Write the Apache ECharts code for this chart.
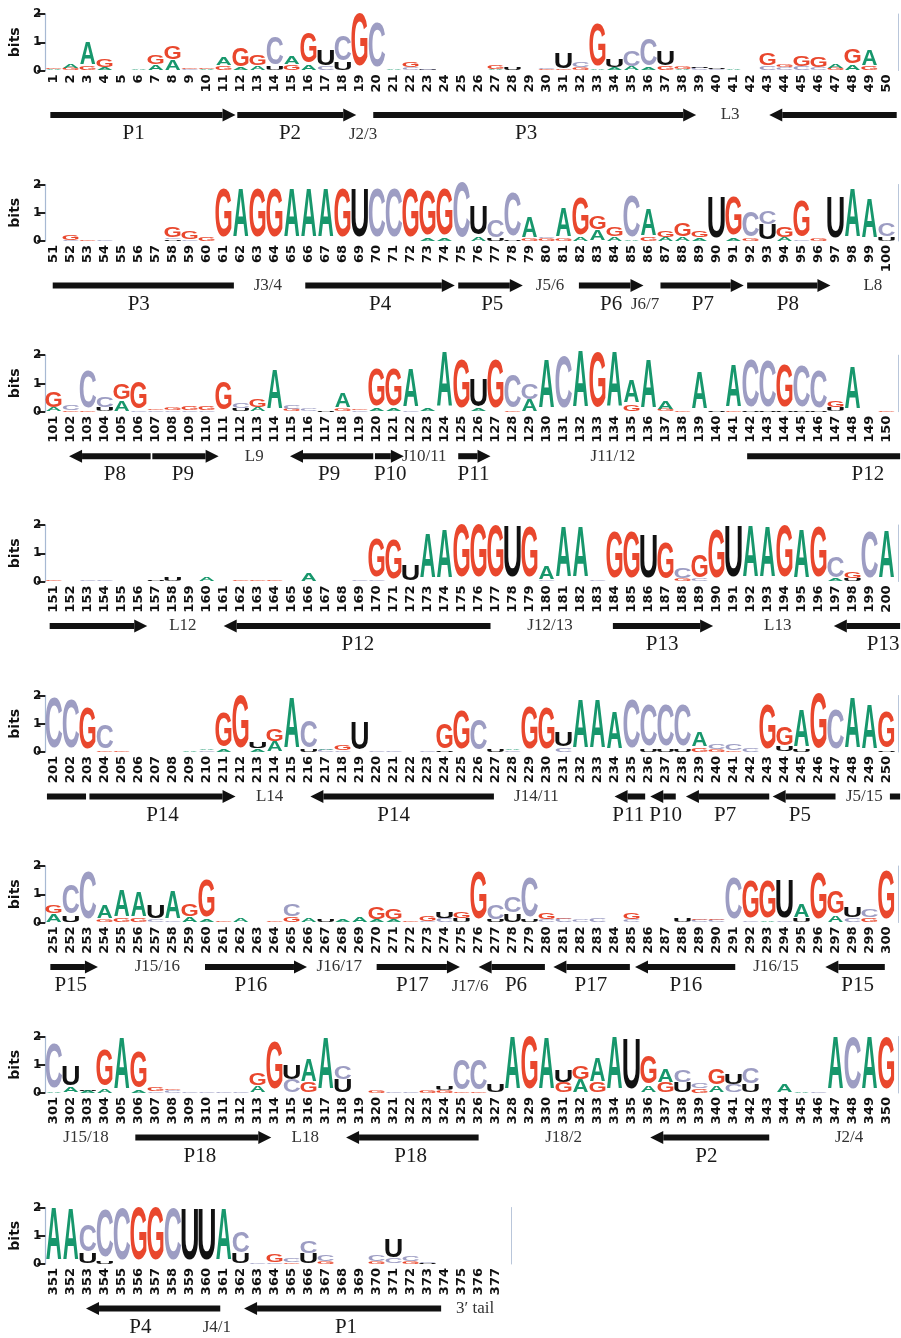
<!DOCTYPE html>
<html><head><meta charset="utf-8">
<script src="https://cdn.jsdelivr.net/npm/echarts@6/dist/echarts.min.js"></script>
<style>html,body{margin:0;padding:0;background:#fff}#c{width:901px;height:1338px}</style>
</head><body><div id="c"></div>
<script>
// ---------- DATA ----------
// Each entry = one alignment position; letters listed bottom -> top with height in bits.
const row1 = ["A.03 G.06","G.08 A.15","G.15 A.8","A.1 G.3","","A.02","A.18 G.33","A.35 G.45","C.05 G.05","A.04 G.04",
"G.15 A.3","A.1 G.65","A.15 G.35","U.12 C1.0","G.2 A.3","A.2 G1.1","C.15 U.55","U.3 C.9","G1.9","C1.6",
"A.02","C.1 G.2","U.03 C.05","","","","A.03 G.12","U.1","","G.04 C.04",
"G.05 U.55","G.1 C.2","A.05 G1.5","A.1 U.3","A.12 C.55","A.1 C.95","G.15 U.5","A.05 G.1","C.08 U.05","C.05 U.05",
"A.03","","C.15 G.4","C.1 G.1","C.12 G.35","C.1 G.35","G.08 A.15","A.2 G.5","G.15 A.55",""];
const row2 = ["","C.03 G.18","G.05","C.04","","","","U.05 C.06 G.38","C.05 G.28","G.12",
"G1.75","A1.75","G1.75","G1.75","A1.75","A1.75","A1.75","G1.75","U1.75","C1.75",
"C1.75","G1.75","A.1 G1.6","A.1 G1.65","C1.95","A.15 U1.05","U.08 C.6","U.06 C1.55","G.08 A.75","G.1 C.06",
"G.08 A1.05","A.12 G1.3","A.38 G.45","A.15 G.32","A.05 C1.45","G.12 A.95","A.12 G.22","A.15 G.45","A.1 G.25","U1.45",
"A.1 G1.35","G.08 C.9","U.55 C.45","A.12 G.35","C.05 G1.25","G.08","U1.45","A1.75","A1.4","U.15 C.45"];
const row3 = ["A.12 G.55","G.04 C.18","G.05 C1.3","U.12 C.35","A.38 G.55","C.05 G.95","C.05 G.05","C.04 G.1","C.04 G.12","C.05 G.15",
"G1.0","U.1 C.18","A.15 G.3","A1.4","G.08 C.15","C.08","U.05","G.1 A.5","C.06 G.06","A.1 G1.33",
"A.1 G1.33","C.05 A1.38","A.08","A1.98","G1.75","A.1 U1.0","G1.75","G.05 C1.15","A.4 C.55","A1.75",
"C1.85","A2.0","G1.95","A1.95","G.25 A.8","A1.75","G.08 A.3","G.05","A1.3","U.05",
"G.05 A1.5","U.05 C1.7","U.05 C1.65","U.05 G1.5","U.05 C1.45","U.05 C1.3","U.15 G.22","A1.5","","G.03"];
const row4 = ["G.03","","C.04","C.02","","","U.05","U.15","","A.15",
"","G.03","G.04","G.05","","A.3","","","C.03","C.05 G1.35",
"G1.4","U.55","A1.6","A1.75","G1.9","G1.9","G1.85","U1.85","G1.8","C.05 A.45",
"A1.8","A1.8","C.03","G1.65","G1.65","U1.55","G1.25","G.1 C.35","C.08 G.8","G1.75",
"U1.85","A1.85","A1.8","G1.85","A1.75","G1.8","A.08 C.75","U.1 G.25","C1.65","A1.7"];
const row5 = ["C1.8","C1.75","G1.45","G.05 C.85","G.05","","","","A.05","C.05 A.05",
"A.1 G1.2","G1.9","A.1 U.25","A.35 G.4","A1.8","U.1 C.95","C.08 A.05","C.05 G.18","U1.0","C.03",
"C.02","","C.03","U.05 G.9","G1.35","C1.1","U.1","C.05 A.05","G1.5","G1.45",
"C.15 U.5","A1.75","A1.75","A1.3","C1.75","U.1 C1.45","U.1 C1.45","U.1 C1.45","G.15 A.5","G.1 C.2",
"G.05 C.25","C.12","G1.6","U.2 G.65","U.1 A1.3","G1.95","C1.4","A1.8","A1.6","U.05 G1.25"];
const row6 = ["A.3 G.3","U.25 C1.05","C1.7","G.1 A.45","G.12 A.95","G.15 A.9","C.1 U.45","C.05 A1.0","A.2 G.4","A.1 G1.3",
"G.06","A.12","","G.04","G.2 C.4","A.12","U.1","A.1","A.2","A.1 G.4",
"A.08 G.38","G.05","C.05 G.2","C.12 U.25","U.12 G.25","G1.7","U.08 C.5","U.3 C.55","U.08 C1.4","C.1 G.25",
"C.12 G.05","C.08","C.12","","C.1 G.25","","","U.12","C.08 G.04","C.1 G.05",
"C1.45","C.05 G1.3","A.05 G1.3","C.05 U1.35","U.15 A.45","G1.65","A.25 G.8","C.15 U.35","G.15 C.3","G1.75"];
const row7 = ["A.05 C1.6","A.2 U.7","A.08 U.05","A.15 G1.25","A1.85","A.1 G1.25","C.05 G.15","C.1 G.05","C.05","C.05",
"C.02","C.05","A.25 G.4","G1.7","C.45 U.5","G.35 A.8","A1.85","U.45 C.45","","G.08",
"C.05","C.03","G.08","G.1 U.15","G.05 C1.1","G.05 C1.1","U.3","A1.9","G1.9","A1.85",
"G.35 U.4","A.45 G.45","G.35 A.85","A1.9","U1.8","A.25 G1.0","G.35 A.45","U.35 C.4","G.15 C.2","A.25 G.55",
"C.3 U.35","U.3 C.55","","A.3","A.05","C.03","A1.9","C1.85","A1.9","G1.85"];
const row8 = ["A1.9","A1.85","U.35 C.95","U.1 C1.7","C1.85","G1.9","G1.9","C1.85","U1.85","U1.85",
"A1.85","U.35 C.75","C.03","C.05 G.28","G.05 C.12","U.35 C.4","G.1 C.22","","","G.08 C.25",
"C.2 U.65","G.1 C.2","U.04 C.06","","","",""];
const logoRows = [row1,row2,row3,row4,row5,row6,row7,row8];
const rowStarts = [1,51,101,151,201,251,301,351];

// Secondary-structure annotation: [from, to, kind] in row-local position units
// kind: r = arrow right, l = arrow left, n = bar without head
const helices = [
  [[0.8,11.7,'r'],[11.8,18.8,'r'],[19.8,38.8,'r'],[43.1,50.6,'l']],
  [[0.94,11.6,'n'],[15.8,24.6,'r'],[24.8,28.6,'r'],[31.9,35.7,'r'],[36.7,41.6,'r'],[41.8,46.7,'r']],
  [[1.9,6.7,'l'],[6.8,10.7,'r'],[14.9,19.8,'l'],[19.9,21.6,'r'],[24.8,26.7,'r'],[41.8,50.8,'n']],
  [[0.76,6.5,'r'],[11,26.7,'l'],[33.9,39.8,'r'],[46.9,50.8,'l']],
  [[0.6,2.9,'n'],[3.1,11.7,'r'],[16.1,26.9,'l'],[34,35.8,'l'],[36.1,37.6,'l'],[38.2,43.1,'l'],[43.3,47,'l'],[50.2,50.8,'n']],
  [[0.8,3.6,'r'],[9.9,15.9,'r'],[20,24.9,'r'],[26,29.9,'l'],[30.4,34.9,'l'],[35.2,41.1,'l'],[46.4,49.9,'l']],
  [[5.8,13.8,'r'],[18.2,26,'l'],[36.1,43.1,'l']],
  [[2.9,10.8,'l'],[12.2,23.8,'l']]
];
// Region labels: [text, position, kind]; P = helix name, ja = junction/loop on arrow line, jb = junction on name line
const regionLabels = [
  [['P1',5.7,'P'],['P2',14.9,'P'],['J2/3',19.2,'jb'],['P3',28.8,'P'],['L3',40.8,'ja']],
  [['P3',6,'P'],['J3/4',13.6,'ja'],['P4',20.2,'P'],['P5',26.8,'P'],['J5/6',30.2,'ja'],['P6',33.8,'P'],['J6/7',35.8,'jb'],['P7',39.2,'P'],['P8',44.2,'P'],['L8',49.2,'ja']],
  [['P8',4.6,'P'],['P9',8.6,'P'],['L9',12.8,'ja'],['P9',17.2,'P'],['P10',20.8,'P'],['J10/11',22.8,'ja'],['P11',25.7,'P'],['J11/12',33.9,'ja'],['P12',48.9,'P']],
  [['L12',8.6,'ja'],['P12',18.9,'P'],['J12/13',30.2,'ja'],['P13',36.8,'P'],['L13',43.6,'ja'],['P13',49.8,'P']],
  [['P14',7.4,'P'],['L14',13.7,'ja'],['P14',21,'P'],['J14/11',29.4,'ja'],['P11',34.8,'P'],['P10',37,'P'],['P7',40.5,'P'],['P5',44.9,'P'],['J5/15',48.7,'ja']],
  [['P15',2,'P'],['J15/16',7.1,'ja'],['P16',12.6,'P'],['J16/17',17.8,'ja'],['P17',22.1,'P'],['J17/6',25.5,'jb'],['P6',28.2,'P'],['P17',32.6,'P'],['P16',38.2,'P'],['J16/15',43.5,'ja'],['P15',48.3,'P']],
  [['J15/18',2.9,'ja'],['P18',9.6,'P'],['L18',15.8,'ja'],['P18',22,'P'],['J18/2',31,'ja'],['P2',39.4,'P'],['J2/4',47.8,'ja']],
  [['P4',6.1,'P'],['J4/1',10.6,'jb'],['P1',18.2,'P'],['3\u2032 tail',25.8,'ja']]
];

// ---------- STYLE / LAYOUT ----------
const COLORS = {A:'#17976c', C:'#9d9dc3', G:'#e9472d', U:'#111111'};
const INK = {A:0.72, C:0.64, G:0.68, U:0.59};
const ZERO_Y = [70.5,241,411.7,581.5,752,922.5,1093,1264];
const PLOT_H = 56.5, LEFT = 45, COL_W = 17;
const LETTER_FONT = '"Liberation Sans", Arial, sans-serif';

function parseStack(s){
  if(!s) return [];
  return s.trim().split(/\s+/).map(t => ({L:t[0], h:parseFloat(t.slice(1))}));
}

const chart = echarts.init(document.getElementById('c'), null, {renderer:'canvas'});
const grid = [], xAxis = [], yAxis = [], series = [];

logoRows.forEach((row, r) => {
  const n = row.length;
  grid.push({left: LEFT, top: ZERO_Y[r]-PLOT_H, width: n*COL_W, height: PLOT_H, containLabel:false});
  const cats = row.map((_, i) => String(rowStarts[r]+i));
  xAxis.push({type:'category', gridIndex:r, data:cats, boundaryGap:true,
    axisLine:{show:false}, axisTick:{show:false}, splitLine:{show:false},
    axisLabel:{interval:0, rotate:90, margin:4, fontSize:13, fontWeight:'bold',
      fontFamily:'"DejaVu Sans", sans-serif', color:'#111'}});
  xAxis.push({type:'value', gridIndex:r, min:0.5, max:n+0.5, show:false});
  yAxis.push({type:'value', gridIndex:r, min:0, max:2, interval:1,
    name:'bits', nameLocation:'middle', nameGap:20, nameRotate:90,
    nameTextStyle:{fontSize:14, fontWeight:'bold', fontFamily:'"DejaVu Sans", sans-serif', color:'#111'},
    axisLine:{show:true, lineStyle:{color:'#a7b9d3', width:1.2}},
    axisTick:{show:true, length:8, lineStyle:{color:'#222', width:2}},
    axisLabel:{margin:4, fontSize:12, fontWeight:'bold', fontFamily:'"DejaVu Sans", sans-serif', color:'#111'},
    splitLine:{show:false}});
  yAxis.push({type:'value', gridIndex:r, min:0, max:2, position:'right', offset:(r===7?7:3),
    axisLine:{show:true, lineStyle:{color:'#b9c6da', width:1}},
    axisTick:{show:false}, axisLabel:{show:false}, splitLine:{show:false}});

  // letter stacks
  const items = [];
  row.forEach((s, i) => {
    let base = 0;
    parseStack(s).forEach(st => {
      items.push({x:i+1, y0:base, y1:base+st.h, L:st.L});
      base += st.h;
    });
  });
  series.push({type:'custom', xAxisIndex:2*r+1, yAxisIndex:2*r, clip:false, silent:true,
    data: items.map(it => [it.x, it.y0, it.y1]),
    encode:{x:0, y:[1,2]},
    renderItem:(params, api) => {
      const it = items[params.dataIndex];
      const p0 = api.coord([it.x, it.y0]);
      const p1 = api.coord([it.x, it.y1]);
      const h = p0[1]-p1[1];
      if (h < 0.4) return null;
      const bw = api.size([1,0])[0];
      const FS = 100;
      const sy = h/(0.716*FS);
      const sx = (bw*0.94)/(INK[it.L]*FS);
      return {type:'text', x:p0[0], y:p0[1]-0.3465*FS*sy, scaleX:sx, scaleY:sy,
        style:{text:it.L, fill:COLORS[it.L], fontSize:FS, fontWeight:'bold', fontFamily:LETTER_FONT,
          align:'center', verticalAlign:'middle'}};
    }});

  // helix arrows
  const hs = helices[r];
  series.push({type:'custom', xAxisIndex:2*r+1, yAxisIndex:2*r, clip:false, silent:true,
    data: hs.map(a => [a[0], a[1]]),
    renderItem:(params, api) => {
      const a = hs[params.dataIndex];
      const xa = api.coord([a[0],0])[0], xb = api.coord([a[1],0])[0];
      const yc = api.coord([0,0])[1] + 44.5;
      const T = 6, HL = 13, HH = 13, col = '#111';
      const ch = [];
      if (a[2]==='r') {
        ch.push({type:'rect', shape:{x:xa, y:yc-T/2, width:Math.max(0,xb-HL-xa), height:T}, style:{fill:col}});
        ch.push({type:'polygon', shape:{points:[[xb-HL,yc-HH/2],[xb,yc],[xb-HL,yc+HH/2]]}, style:{fill:col}});
      } else if (a[2]==='l') {
        ch.push({type:'rect', shape:{x:xa+HL, y:yc-T/2, width:Math.max(0,xb-xa-HL), height:T}, style:{fill:col}});
        ch.push({type:'polygon', shape:{points:[[xa+HL,yc-HH/2],[xa,yc],[xa+HL,yc+HH/2]]}, style:{fill:col}});
      } else {
        ch.push({type:'rect', shape:{x:xa, y:yc-T/2, width:xb-xa, height:T}, style:{fill:col}});
      }
      return {type:'group', children:ch};
    }});

  // region labels
  const ls = regionLabels[r];
  series.push({type:'custom', xAxisIndex:2*r+1, yAxisIndex:2*r, clip:false, silent:true,
    data: ls.map(l => [l[1], 0]),
    renderItem:(params, api) => {
      const l = ls[params.dataIndex];
      const x = api.coord([l[1],0])[0];
      const y0 = api.coord([0,0])[1];
      const isP = l[2]==='P';
      const y = isP ? y0+63 : (l[2]==='ja' ? y0+44.5 : y0+64);
      return {type:'text', x:x, y:y,
        style:{text:l[0], fill:isP?'#1a1a1a':'#333', fontSize:isP?21:17,
          fontFamily:'"Liberation Serif", "Times New Roman", serif',
          align:'center', verticalAlign:'middle'}};
    }});
});

chart.setOption({animation:false, backgroundColor:'#fff', grid, xAxis, yAxis, series});
</script></body></html>
